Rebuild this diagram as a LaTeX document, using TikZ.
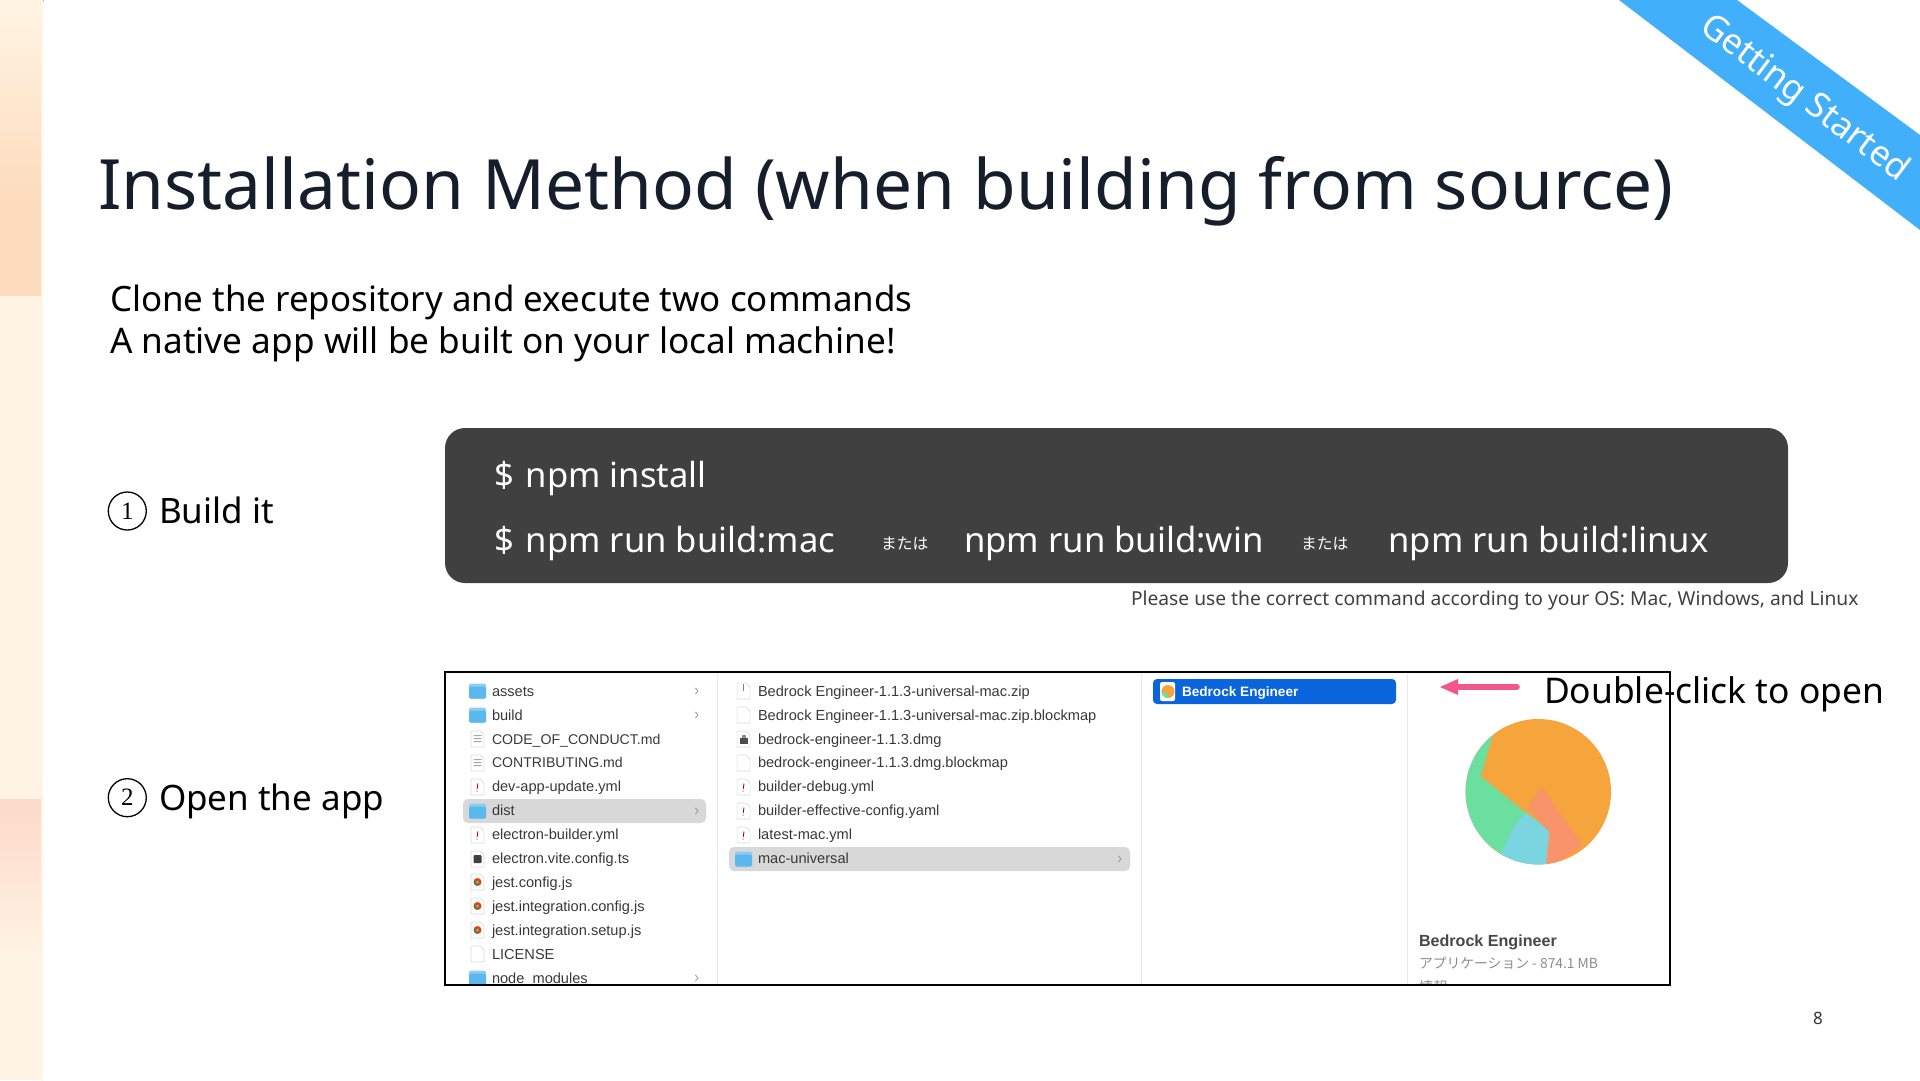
\documentclass[tikz,border=0pt]{standalone}
\usepackage{fontspec}
\setmainfont{Noto Sans}
\newfontfamily\finderfont{Liberation Sans}
\newfontfamily\cjkfont{Noto Sans CJK JP}
\newfontfamily\serifnum{Liberation Serif}
\usetikzlibrary{arrows.meta}
\definecolor{ink}{HTML}{161D2B}
\definecolor{strip}{HTML}{FFF4E3}
\definecolor{stripo}{HTML}{FDDCBE}
\definecolor{stripp}{HTML}{FDD9CA}
\definecolor{panel}{HTML}{404040}
\definecolor{ribbon}{HTML}{42AFFB}
\definecolor{folder}{HTML}{5BB8EE}
\definecolor{selrow}{HTML}{D8D8D8}
\definecolor{bluerow}{HTML}{0A64DC}
\definecolor{pinkarrow}{HTML}{F2578A}
\definecolor{pieO}{HTML}{F5A53C}
\definecolor{pieG}{HTML}{6ADF9F}
\definecolor{pieC}{HTML}{7AD5E0}
\definecolor{pieS}{HTML}{F8936A}
\newcommand{\fsz}[1]{\fontsize{#1}{#1}\selectfont}
\tikzset{
  txt/.style={inner sep=0pt,outer sep=0pt,anchor=base west},
  frow/.style={txt,font=\finderfont\fsz{14.6},text=black!78},
  frowcaps/.style={txt,font=\finderfont\fsz{14.1},text=black!78},
  chev/.style={draw=black!45,line width=0.7pt,line cap=round},
  page/.style={fill=white,draw=black!14,line width=0.7pt},
  numring/.style={circle,draw=black,line width=1.3pt,minimum size=38pt,inner sep=0pt,font=\serifnum\fsz{25}},
  soft/.style={line width=2.5pt,draw opacity=.5,line join=round}
}
% folder icon
\newcommand{\folderic}[2]{%
  \fill[folder!70!white,rounded corners=1.5pt] (#1-8.5,#2-7.5) rectangle (#1+8.5,#2+7.5);
  \fill[folder,rounded corners=1.5pt] (#1-8.5,#2-4.5) rectangle (#1+8.5,#2+7.5);
}
\newcommand{\docic}[2]{%
  \draw[page,rounded corners=1pt] (#1-6.5,#2-8) -- (#1+3,#2-8) -- (#1+6.5,#2-4) -- (#1+6.5,#2+8) -- (#1-6.5,#2+8) -- cycle;
}
\newcommand{\mdic}[2]{\docic{#1}{#2}%
  \fill[black!35] (#1-4,#2-4) rectangle (#1+4,#2-2.8) (#1-4,#2-1) rectangle (#1+4,#2+0.2) (#1-4,#2+2) rectangle (#1+4,#2+3.2);}
\newcommand{\ymlic}[2]{\docic{#1}{#2}%
  \draw[purple!70!black,line width=0.8pt] (#1+0.4,#2-3.5) -- (#1-0.4,#2+2) (#1-0.5,#2+3.5) -- (#1-0.55,#2+4.5);}
\newcommand{\jestic}[2]{\docic{#1}{#2}%
  \fill[red!55!orange] (#1,#2) circle (4pt); \fill[green!50!black!80] (#1-1,#2+1) circle (2.5pt); \fill[blue!40!white] (#1,#2) circle (1.5pt);}
\begin{document}
\begin{tikzpicture}[x=1pt,y=-1pt]
\useasboundingbox (0,0) rectangle (1920,1080);
% left strip
\fill[strip] (0,0) rectangle (41,1080);
\fill[top color=strip,bottom color=stripo,shading angle=0] (0,0) rectangle (41,200);
\fill[stripo] (0,200) rectangle (41,296);
\fill[top color=stripp,bottom color=strip] (0,799) rectangle (41,960);
\fill[left color=strip,right color=white] (41,0) rectangle (43.5,1080);
% ribbon
\fill[ribbon] (1619,0) -- (1737,0) -- (1920,135) -- (1920,230) -- cycle;
\node[inner sep=0pt,rotate=-37,text=white,font=\fontsize{35}{35}\selectfont] (ribbontext) at (1804,99) {Getting Started};
% title and intro
\node[txt,text=ink,font=\fsz{69.4}] (title) at (98,209) {Installation Method (when building from source)};
\node[txt,text=black,font=\fsz{34.9}] (intro1) at (110,311) {Clone the repository and execute two commands};
\node[txt,text=black,font=\fsz{35.2}] (intro2) at (110,353) {A native app will be built on your local machine!};
% steps
\node[numring] (n1) at (127.3,511) {1};
\node[txt,font=\fsz{35}] (step1) at (159,523) {Build it};
\node[numring] (n2) at (127.3,797.7) {2};
\node[txt,font=\fsz{35}] (step2) at (159,810) {Open the app};
% command panel
\fill[panel,rounded corners=20pt] (445,428) rectangle (1788,583);
\node[txt,text=white,font=\fsz{34.6}] (c1) at (494,487) {\$\kern3pt\ npm install};
\node[txt,text=white,font=\fsz{34.6}] (c2) at (494,552) {\$\kern3pt\ npm run build:mac};
\node[txt,text=white,font=\cjkfont\fsz{15.8}] (or1) at (881,549) {または};
\node[txt,text=white,font=\fsz{34.7}] (c3) at (964,552) {npm run build:win};
\node[txt,text=white,font=\cjkfont\fsz{15.8}] (or2) at (1301,549) {または};
\node[txt,text=white,font=\fsz{34.6}] (c4) at (1388.5,552) {npm run build:linux};
\node[txt,text=black!75,font=\fsz{19.23}] (note) at (1131,605) {Please use the correct command according to your OS: Mac, Windows, and Linux};
% finder screenshot
\begin{scope}
\clip (445,672) rectangle (1670,985);
\draw[black!8,line width=1pt] (717,672) -- (717,985) (1141,672) -- (1141,985) (1407,672) -- (1407,985);
\fill[selrow,rounded corners=5pt] (463,799) rectangle (706,823);
\fill[selrow,rounded corners=5pt] (729,847) rectangle (1130,871);
\fill[bluerow,rounded corners=4pt] (1153,679) rectangle (1396,704);
% column 1
\folderic{477.5}{691} \node[frow] (f1) at (492,696) {assets};
\folderic{477.5}{715} \node[frow] (f2) at (492,720) {build};
\mdic{477.5}{739} \node[frowcaps] (f3) at (492,744) {CODE\_OF\_CONDUCT.md};
\mdic{477.5}{763} \node[frowcaps] (f4) at (492,767.8) {CONTRIBUTING.md};
\ymlic{477.5}{787} \node[frow] (f5) at (492,791.7) {dev-app-update.yml};
\folderic{477.5}{811} \node[frow] (f6) at (492,815.6) {dist};
\ymlic{477.5}{835} \node[frow] (f7) at (492,839.5) {electron-builder.yml};
\docic{477.5}{859} \fill[black!75,rounded corners=1pt] (473.5,855) rectangle (481.5,863); \node[frow] (f8) at (492,863.5) {electron.vite.config.ts};
\jestic{477.5}{882} \node[frow] (f9) at (492,887) {jest.config.js};
\jestic{477.5}{906} \node[frow] (f10) at (492,911) {jest.integration.config.js};
\jestic{477.5}{930} \node[frow] (f11) at (492,935) {jest.integration.setup.js};
\docic{477.5}{954} \node[frow] (f12) at (492,959) {LICENSE};
\folderic{477.5}{978} \node[frow] (f13) at (492,983) {node\_modules};
\foreach \yy in {691,715,811,978} \draw[chev] (695.5,\yy-3) -- (698,\yy) -- (695.5,\yy+3);
% column 2
\docic{743.6}{691} \draw[black!50,line width=1pt] (743.6,684) -- (743.6,691); \node[frow] (g1) at (758,696) {Bedrock Engineer-1.1.3-universal-mac.zip};
\docic{743.6}{715} \node[frow] (g2) at (758,720) {Bedrock Engineer-1.1.3-universal-mac.zip.blockmap};
\docic{743.6}{739} \fill[black!70] (739.5,738) rectangle (747.5,744); \fill[black!45] (741.5,735) rectangle (745.5,738); \node[frow] (g3) at (758,744) {bedrock-engineer-1.1.3.dmg};
\docic{743.6}{763} \node[frow] (g4) at (758,767.8) {bedrock-engineer-1.1.3.dmg.blockmap};
\ymlic{743.6}{787} \node[frow] (g5) at (758,791.7) {builder-debug.yml};
\ymlic{743.6}{811} \node[frow] (g6) at (758,815.6) {builder-effective-config.yaml};
\ymlic{743.6}{835} \node[frow] (g7) at (758,839.5) {latest-mac.yml};
\folderic{743.6}{859} \node[frow] (g8) at (758,863.5) {mac-universal};
\draw[chev] (1118.5,856) -- (1121,859) -- (1118.5,862);
% column 3
\fill[white,rounded corners=2pt] (1160,682) rectangle (1175,701);
\begin{scope}
\clip (1168,691.5) circle (6.5pt);
\fill[pieO] (1160,684) rectangle (1176,699);
\fill[pieG] (1161,691) -- (1168,694) -- (1168,699) -- (1161,699) -- cycle;
\end{scope}
\node[txt,text=white,font=\finderfont\bfseries\fsz{13.6}] (h1) at (1182,696) {Bedrock Engineer};
% preview
\begin{scope}
\clip (1538.3,791.7) circle (72.7pt);
\fill[pieO] (1460,715) rectangle (1615,870);
\filldraw[fill=pieG,draw=pieG,soft] (1460,870) -- (1460,715) -- (1491.7,736.7) -- (1480,776.7) -- (1525,813) -- (1550,831.7) -- (1546.7,870) -- cycle;
\filldraw[fill=pieC,draw=pieC,soft] (1525,813) -- (1550,831.7) -- (1546.7,870) -- (1498,870) -- (1503,850) -- (1515,826) -- cycle;
\filldraw[fill=pieS,draw=pieS,soft] (1541.7,788.3) -- (1535,797) -- (1528.3,808) -- (1550,831.7) -- (1546.7,866) -- (1560,860) -- (1581.7,845) -- cycle;
\end{scope}
\node[txt,text=black!72,font=\finderfont\bfseries\fsz{16.1}] (p1) at (1419,946) {Bedrock Engineer};
\node[txt,text=black!45,font=\cjkfont\fsz{13.8}] (p2) at (1419,968) {アプリケーション - 874.1 MB};
\node[txt,text=black!45,font=\cjkfont\fsz{14.4}] (p3) at (1419,992) {情報};
\end{scope}
\draw[black,line width=1.7pt] (445,672) rectangle (1670,985);
% callout
\coordinate (arrstart) at (1517,687);
\coordinate (arrtip) at (1440,687);
\draw[pinkarrow,line width=5.5pt,line cap=round] (arrstart) -- (1452,687);
\fill[pinkarrow] (arrtip) -- (1458,679) -- (1458,695) -- cycle;
\node[txt,text=black,font=\fsz{35.4}] (dbl) at (1544,703) {Double-click to open};
\node[txt,text=black!80,font=\fsz{17}] (pg) at (1813,1024) {8};
\end{tikzpicture}
\end{document}
